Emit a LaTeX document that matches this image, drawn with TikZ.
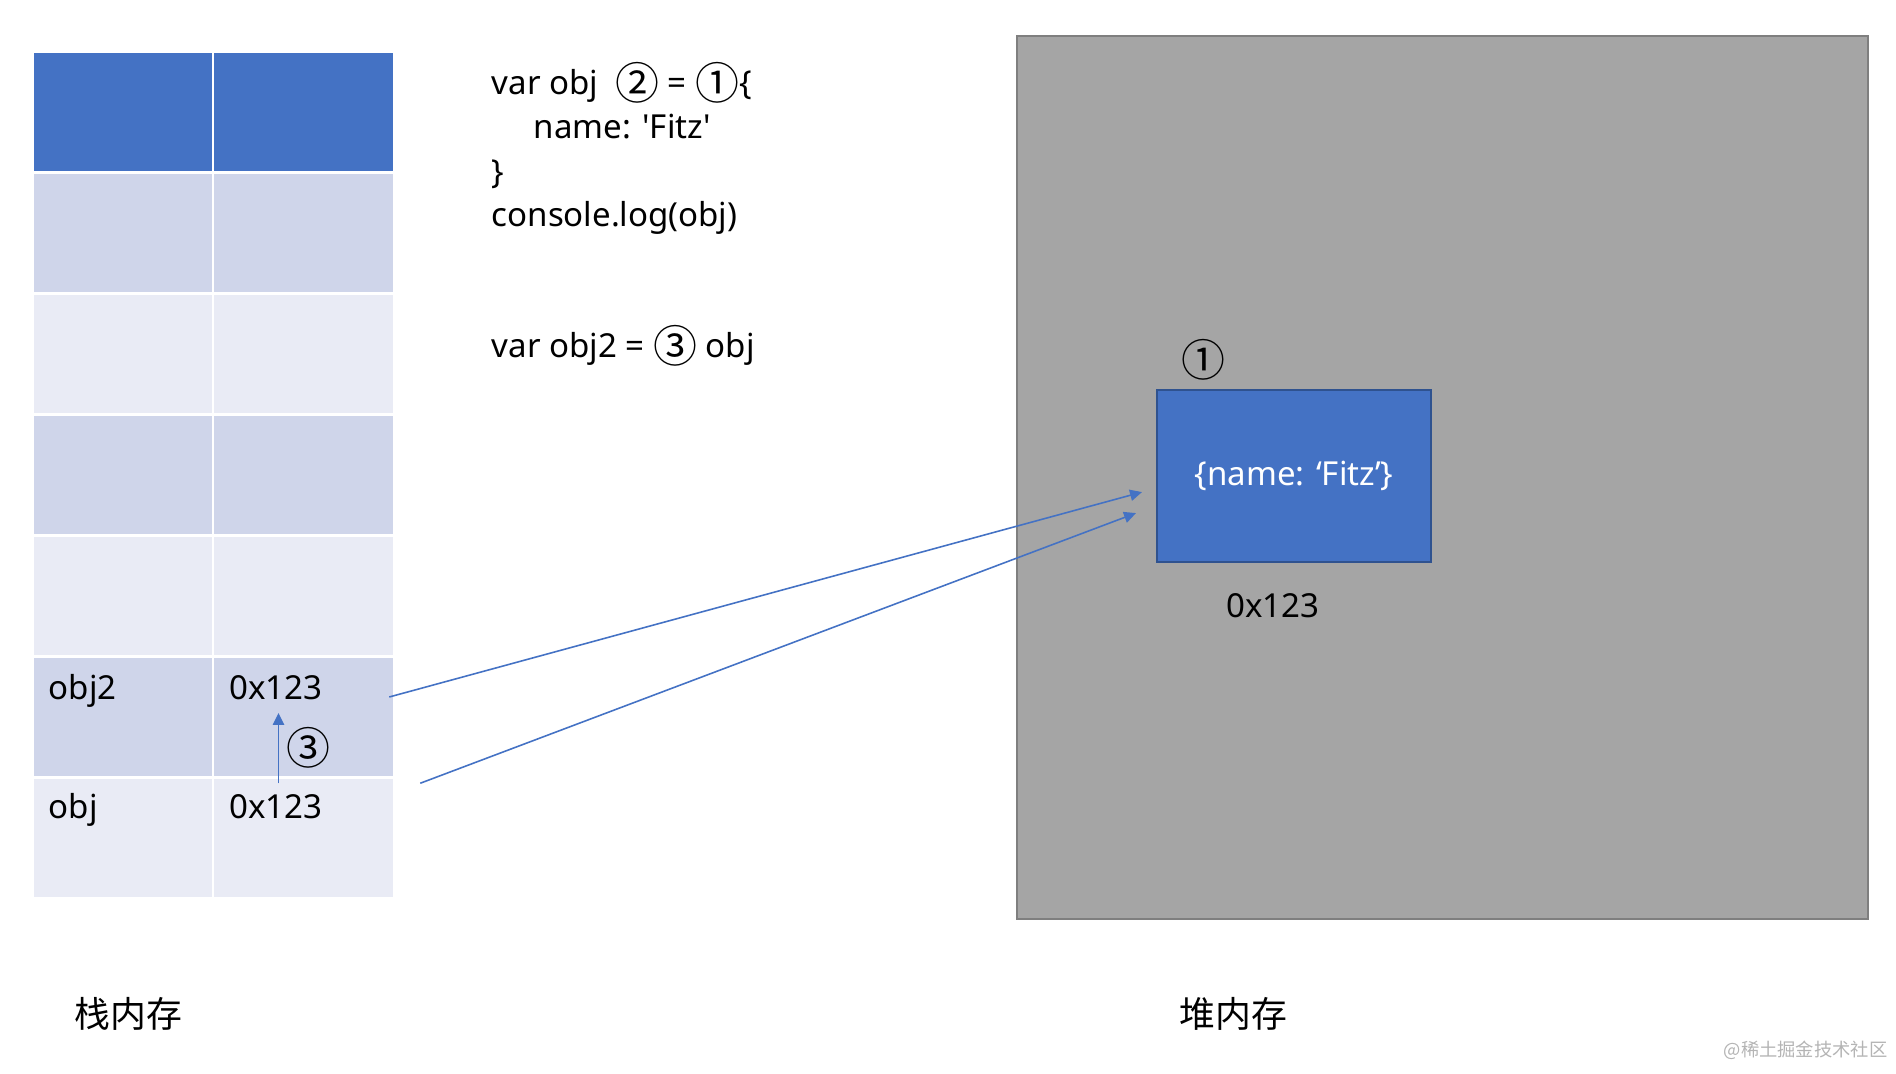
\documentclass[tikz,border=0pt]{standalone}
\usepackage{fontspec}
\setmainfont{Noto Sans}[Ligatures=TeXOff]
\newfontfamily\cjk{Noto Sans CJK SC}
\usetikzlibrary{arrows.meta,calc,positioning}
\definecolor{hdrblue}{HTML}{4472C4}
\definecolor{rowdark}{HTML}{CFD5EA}
\definecolor{rowlight}{HTML}{E9EBF5}
\definecolor{heapgray}{HTML}{A5A5A5}
\definecolor{heapline}{HTML}{7F7F7F}
\definecolor{boxline}{HTML}{2F528F}
\definecolor{markgray}{HTML}{B4B4B4}
\newcommand\circnum[1]{{\cjk\fontsize{12.5}{11.6}\selectfont #1}}
\newcommand\incode[1]{\raisebox{-1.4pt}{\circnum{#1}}}

\begin{document}
\begin{tikzpicture}[x=0.01cm, y=-0.01cm,
    every node/.style={inner sep=0pt, font=\fontsize{9.4}{11.6}\selectfont},
    cell/.style={minimum width=1.78cm, minimum height=1.18cm},
    ptr/.style={draw=hdrblue, line width=0.45pt, -{Triangle[length=3.4pt,width=3.2pt]}}]

    \useasboundingbox (0,0) rectangle (1896,1074);

    % Stack table
    \foreach \i/\c in {1/hdrblue,2/rowdark,3/rowlight,4/rowdark,5/rowlight,6/rowdark,7/rowlight} {
        \node[cell, fill=\c] (k\i) at (123, {112+(\i-1)*121}) {};
        \node[cell, fill=\c] (v\i) at (303.5, {112+(\i-1)*121}) {};
    }
    \node[anchor=base west] (n6) at ($(k6.north west)+(15,42)$) {obj2};
    \node[anchor=base west] (a6) at ($(v6.north west)+(15,42)$) {0x123};
    \node[anchor=base west] (n7) at ($(k7.north west)+(15,40)$) {obj};
    \node[anchor=base west] (a7) at ($(v7.north west)+(15,40)$) {0x123};

    % Copy of the reference
    \coordinate (up) at ($(v6.center)+(-25,-4)$);
    \draw[ptr] ($(v7.north)+(-25,5)$) -- (up);
    \node (s3) at (308,748) {\circnum{③}};

    % Code
    \node[anchor=base west] (code1) at (491,95) {var obj\ \ \incode{②} = \incode{①}\{};
    \node[anchor=base west] (code2) at (533,139) {name: 'Fitz'};
    \node[anchor=base west] (code3) at (491,184) {\}};
    \node[anchor=base west] (code4) at (491,227) {console.log(obj)};
    \node[anchor=base west] (code5) at (491,358) {var obj2 = \incode{③} obj};

    % Heap
    \node[fill=heapgray, draw=heapline, line width=0.6pt, minimum width=8.5cm, minimum height=8.82cm, anchor=north west] (heap) at (1016,35) {};
    \node[fill=hdrblue, draw=boxline, line width=0.6pt, minimum width=2.74cm, minimum height=1.72cm, anchor=north west, text=white] (obj) at (1156,389) {\{name: ‘Fitz’\}};
    \node (c1) at (1203,360) {\circnum{①}};
    \node (addr) at (1273,606) {0x123};

    % References
    \coordinate (tipA) at ($(obj.west)+(-14,16)$);
    \coordinate (tipB) at ($(obj.west)+(-20,37)$);
    \draw[ptr] ($(v6.east)+(-4,-20)$) -- (tipA);
    \draw[ptr] ($(v7.north east)+(27,5)$) -- (tipB);

    % Labels
    \node[font={\cjk\fontsize{10.2}{12}\selectfont}, anchor=west] (stack) at (74,1014) {栈内存};
    \node[font={\cjk\fontsize{10.2}{12}\selectfont}, anchor=west] (heaplbl) at (1179,1014) {堆内存};
    \node[font={\cjk\fontsize{5.2}{6}\selectfont}, text=markgray, anchor=east] (mark) at (1888,1050) {@稀土掘金技术社区};
\end{tikzpicture}
\end{document}
